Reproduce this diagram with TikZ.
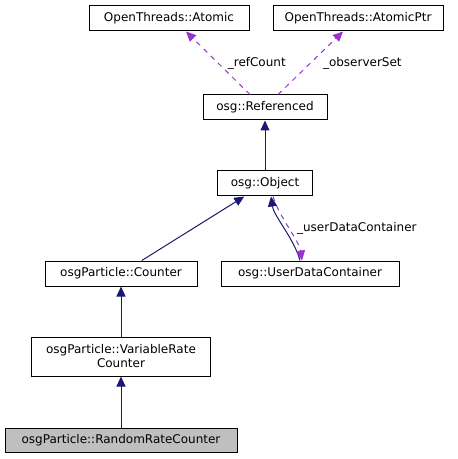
\documentclass[tikz,border=0pt]{standalone}
\usepackage{fontspec}
\setmainfont{DejaVu Sans}
\usetikzlibrary{arrows.meta}
\definecolor{navy}{HTML}{191970}
\definecolor{orchid}{HTML}{9A32CD}
\definecolor{grayfill}{HTML}{BFBFBF}
\tikzset{
  cls/.style={draw=black, line width=0.75pt, fill=white, inner sep=0pt, minimum height=18.75pt, font=\fontsize{9}{10.5}\selectfont, align=center},
  inh/.style={draw=navy, line width=0.75pt, -{Triangle[length=7.5pt,width=6.75pt]}},
  use/.style={draw=orchid, line width=0.75pt, dash pattern=on 3.75pt off 3.75pt, -{Triangle[length=7.5pt,width=6.75pt]}},
  lbl/.style={font=\fontsize{9}{10.5}\selectfont, inner sep=0pt}
}
\begin{document}
\begin{tikzpicture}[x=0.75pt, y=-0.75pt]
\useasboundingbox (0,0) rectangle (457,459);
\node[cls, minimum width=120pt] (atomic) at (169,18.5) {OpenThreads::Atomic};
\node[cls, minimum width=127.5pt] (atomicptr) at (358,18.5) {OpenThreads::AtomicPtr};
\node[cls, minimum width=93pt] (ref) at (265,107.5) {osg::Referenced};
\node[cls, minimum width=71.25pt] (obj) at (265,183.5) {osg::Object};
\node[cls, minimum width=133.5pt] (udc) at (310,273.5) {osg::UserDataContainer};
\node[cls, minimum width=114pt] (cnt) at (121,273.5) {osgParticle::Counter};
\node[cls, minimum width=134.25pt, minimum height=29.25pt] (vrc) at (121,356.5) {osgParticle::VariableRate\\Counter};
\node[cls, fill=grayfill, minimum width=174pt, minimum height=18pt] (rrc) at (121,440) {osgParticle::RandomRateCounter};

\draw[use] ([xshift=-11.25pt]ref.north) -- ([xshift=12.75pt]atomic.south)
  node[lbl, pos=0.5, right=7pt] {\_refCount};
\draw[use] ([xshift=9.75pt]ref.north) -- ([xshift=-11.25pt]atomicptr.south)
  node[lbl, pos=0.5, right=9pt] {\_observerSet};
\draw[inh] (obj) -- (ref);
\draw[inh] (cnt) -- (obj);
\draw[inh] ([xshift=-7.5pt]udc.north) .. controls +(-6,-22) and +(3,20) .. ([xshift=4.5pt]obj.south);
\draw[use] ([xshift=6pt]obj.south) .. controls +(6,20) and +(-3,-20) .. ([xshift=-6pt]udc.north)
  node[lbl, pos=0.5, right=6pt] {\_userDataContainer};
\draw[inh] (vrc) -- (cnt);
\draw[inh] (rrc) -- (vrc);
\end{tikzpicture}
\end{document}
